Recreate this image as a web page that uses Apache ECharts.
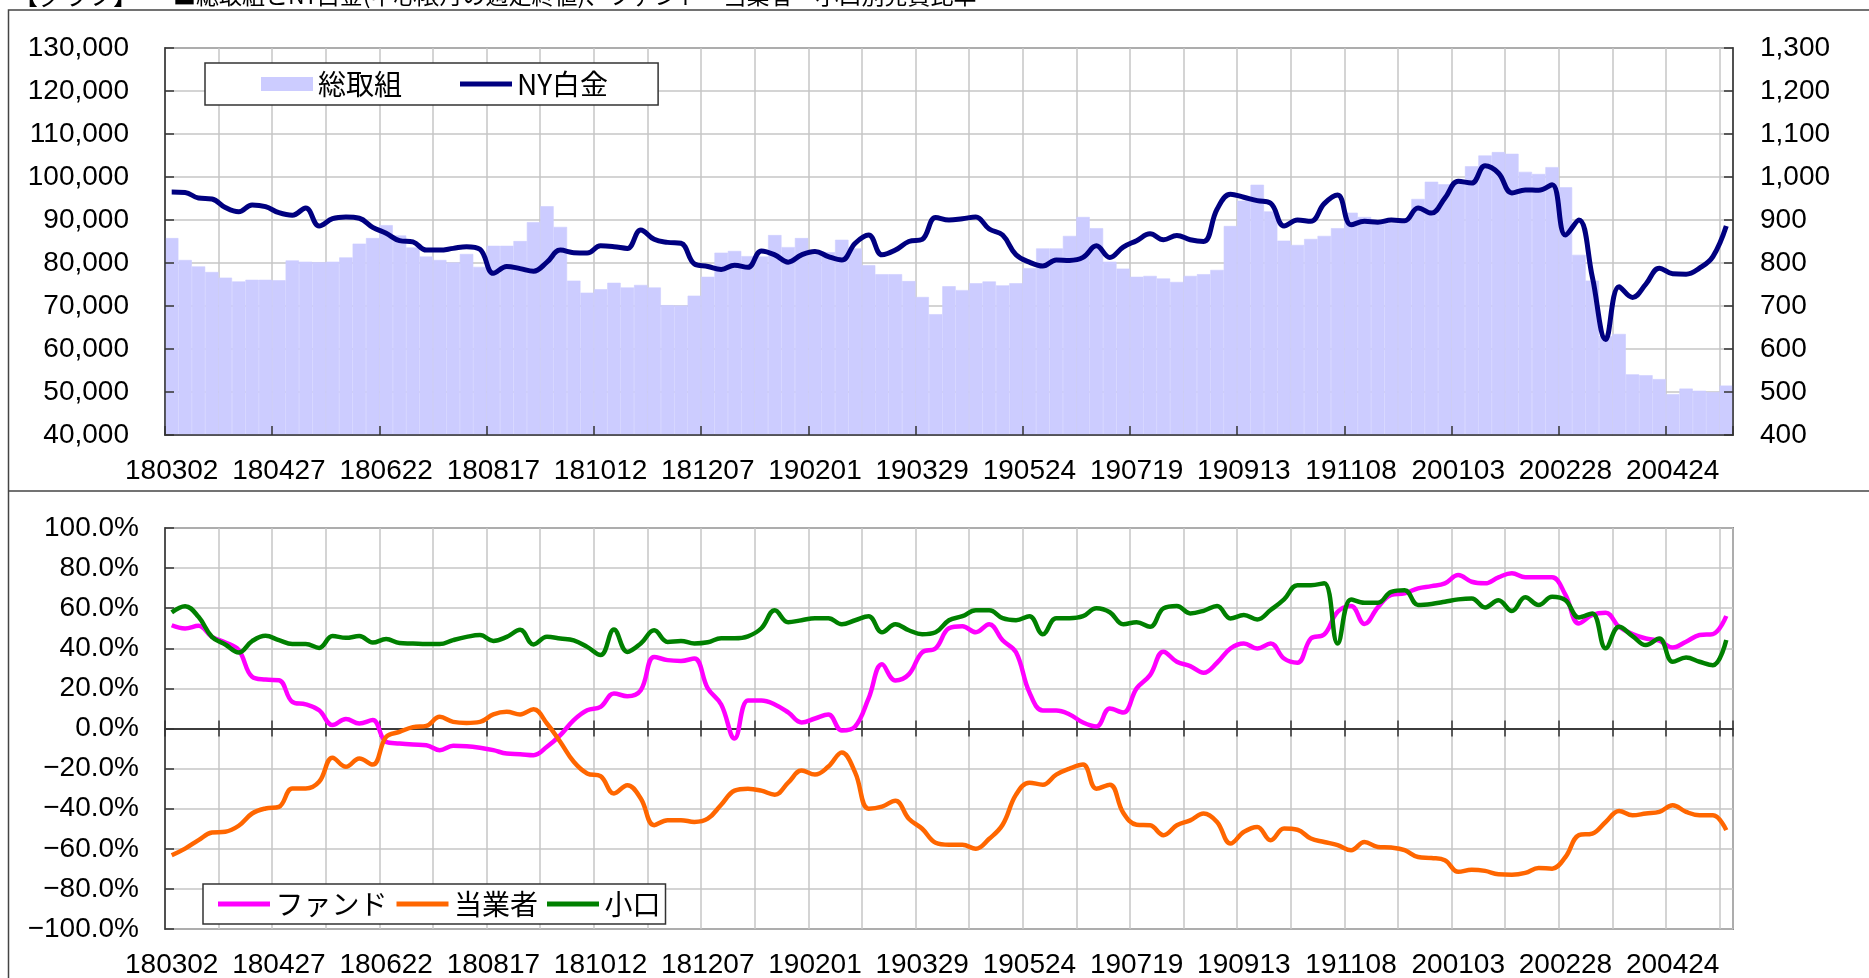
<!DOCTYPE html>
<html>
<head>
<meta charset="utf-8">
<script src="https://cdn.jsdelivr.net/npm/echarts@6/dist/echarts.min.js"></script>
<style>
html,body{margin:0;padding:0;background:#fff;}
#c{width:1869px;height:978px;}
</style>
</head>
<body>
<div id="c"></div>
<script>
// ---- categories (weekly, yymmdd) ----
const categories = ['180302','180309','180316','180323','180330','180406','180413','180420','180427','180504','180511','180518','180525','180601','180608','180615','180622','180629','180706','180713','180720','180727','180803','180810','180817','180824','180831','180907','180914','180921','180928','181005','181012','181019','181026','181102','181109','181116','181123','181130','181207','181214','181221','181228','190104','190111','190118','190125','190201','190208','190215','190222','190301','190308','190315','190322','190329','190405','190412','190419','190426','190503','190510','190517','190524','190531','190607','190614','190621','190628','190705','190712','190719','190726','190802','190809','190816','190823','190830','190906','190913','190920','190927','191004','191011','191018','191025','191101','191108','191115','191122','191129','191206','191213','191220','191227','200103','200110','200117','200124','200131','200207','200214','200221','200228','200306','200313','200320','200327','200403','200410','200417','200424','200501','200508','200515','200522'];

// ---- 総取組 (left axis) ----
const totalOI = [85800,80700,79200,77900,76600,75700,76100,76100,76000,80600,
80300,80200,80300,81300,84500,85800,88800,86400,83600,81500,
80700,80100,82100,79100,84000,84000,85100,89500,93200,88400,
75900,73100,73900,75400,74300,74900,74300,70200,70100,72400,
76800,82400,82800,81600,81500,86500,83700,85800,82000,82500,
85400,83400,79500,77400,77400,75800,72100,68100,74600,73700,
75300,75700,74800,75300,78800,83400,83400,86300,90700,88100,
80300,78700,76800,77000,76400,75600,77000,77400,78400,88600,
94500,98200,92000,85200,84200,85600,86300,88100,91700,90700,
89500,89300,90000,94900,98900,98300,99000,102500,105000,105800,
105400,101200,100700,102300,97600,81900,75900,63000,63500,54100,
53900,53000,49500,50800,50300,50000,51500];

// ---- NY白金 (right axis) ----
const platinum = [965,964,951,949,929,919,935,931,917,911,
928,886,903,907,904,883,869,852,849,830,
830,834,838,832,776,792,787,781,802,830,
824,823,840,838,834,877,855,848,846,798,
792,785,795,790,828,819,802,819,827,815,
807,846,865,819,830,850,855,906,900,903,
907,879,865,819,802,793,807,806,813,840,
813,837,852,868,854,864,854,850,925,960,
953,945,939,886,900,897,938,958,889,897,
895,900,898,928,916,951,990,986,1026,1009,
963,970,969,982,865,900,768,622,745,720,
751,788,775,774,788,815,886];

// ---- 売買比率 (%) ----
const fund = [51.5,49.9,51.2,45.7,42.9,39.1,25.8,24.4,24.1,13.3,
12.0,9.1,1.7,4.7,2.5,4.2,-6.7,-7.5,-8.0,-8.3,
-10.8,-8.6,-8.8,-9.6,-10.8,-12.5,-12.8,-13.3,-9.1,-3.3,
4.2,9.1,10.8,17.5,16.1,19.1,35.7,34.1,33.7,34.9,
20,12,-5,14,14,12,8,3,5,7,
-1,1,15,32,24,27,38,40,50,51,
48,52,44,38,18,9,9,7,3,1,
10,8,20,26.6,38.3,33.3,31.1,27.8,32.8,39.9,
42.4,39.9,42.4,34.9,32.8,44.9,46.9,58.2,61.1,52.1,
60.4,66.6,67.4,69.9,71.0,72.4,76.5,73.2,72.4,75.4,
77.4,75.4,75.4,75.4,66.6,52.4,56.6,57.7,50.7,47.1,
44.9,43.8,40.4,43.3,46.6,47.1,56.1];

const merchant = [-63.2,-59.9,-55.7,-51.9,-51.5,-48.5,-42.4,-39.9,-39.1,-29.9,
-29.9,-26.6,-14.6,-19.1,-15.0,-18.0,-4.2,-1.7,0.7,1.3,
5.8,3.3,2.8,3.3,7.0,8.3,7.0,9.6,2.5,-6.7,
-16.6,-22.4,-23.8,-32.4,-28.3,-34.9,-48.2,-45.7,-45.7,-46.6,
-45,-38,-31,-30,-31,-33,-27,-21,-23,-19,
-12,-22,-40,-39,-36,-45,-50,-57,-58,-58,
-60,-55,-48,-33,-27,-28,-23,-20,-18,-30,
-28,-42,-48,-48.3,-53.2,-48.3,-45.8,-42.4,-46.6,-57.4,
-51.6,-49.1,-55.7,-49.9,-50.5,-54.9,-56.6,-58.2,-60.7,-56.6,
-59.1,-59.4,-60.7,-64.1,-64.6,-65.7,-71.5,-70.4,-71.0,-72.7,
-72.9,-72.0,-69.6,-69.9,-64.1,-53.2,-52.4,-46.6,-41.1,-43.3,
-42.4,-41.6,-38.3,-41.6,-43.3,-43.3,-50.7];

const small = [57.9,61.0,55.7,45.7,41.9,37.9,43.6,46.2,44.1,42.2,
42.2,40.2,46.1,45.2,46.1,42.9,44.6,42.6,42.4,42.1,
42.1,44.1,45.7,46.6,43.7,45.7,49.2,41.9,45.7,44.9,
44.0,40.7,36.6,49.4,38.2,42.4,49.0,43.2,43.7,42.4,
43,45,45,46,50,59,53,54,55,55,
52,54,56,48,52,49,47,48,54,56,
59,59,55,54,56,47,55,55,56,60,
58,52,53,50.7,59.9,61.1,57.4,58.7,61.1,54.9,
56.6,54.4,59.1,64.4,71.5,71.5,72.4,42.4,64.4,62.7,
62.7,68.2,69.0,61.6,62.1,63.2,64.4,64.9,60.4,64.0,
58.6,65.4,61.6,65.7,64.0,55.4,57.4,40.0,50.7,46.1,
41.6,44.9,33.3,35.4,33.3,31.6,44.1];

// ---- axis scales ----
const leftScale = {min: 40000, max: 130000, interval: 10000};
const rightScale = {min: 400, max: 1300, interval: 100};
const pctScale = {min: -100, max: 100, interval: 20};

// ---- text ----
const titleLeft = '【グラフ】';
const titleMain = '■総取組とNY白金(中心限月の週足終値)、ファンド・当業者・小口別売買比率';

const NUM_FONT = '"Liberation Sans", Arial, sans-serif';
const JP_FONT = '"Noto Sans CJK JP", sans-serif';
const fmtComma = v => Number(v).toLocaleString('en-US');
const fmtPct = v => (v < 0 ? '\u2212' : '') + Math.abs(v).toFixed(1) + '%';
const GRID_LS = {color: '#c6c6c6', width: 1.5};
const AX_LS = {color: '#333', width: 1.5};
const LINE_ICON = 'path://M0,0M52,14M0,4.5L52,4.5L52,9.5L0,9.5Z';
const numLabel = {fontSize: 28, fontFamily: NUM_FONT, color: '#000'};

const chart = echarts.init(document.getElementById('c'), null, {renderer: 'canvas'});
const option = {
  backgroundColor: '#fff',
  animation: false,
  grid: [
    {left: 165, top: 48, width: 1568, height: 387, show: true, borderColor: '#333', borderWidth: 1.5, backgroundColor: 'transparent', containLabel: false, outerBoundsMode: 'none'},
    {left: 165, top: 528, width: 1568, height: 401, show: true, borderColor: '#333', borderWidth: 1.5, backgroundColor: 'transparent', containLabel: false, outerBoundsMode: 'none'}
  ],
  xAxis: [
    {type: 'category', gridIndex: 0, position: 'bottom', data: categories, boundaryGap: true, z: 5,
     axisLine: {show: true, onZero: false, lineStyle: AX_LS},
     axisTick: {show: true, inside: true, interval: 7, length: 9, lineStyle: AX_LS},
     axisLabel: Object.assign({interval: 7, margin: 22}, numLabel),
     splitLine: {show: false}},
    {type: 'category', gridIndex: 0, position: 'top', data: categories, boundaryGap: true, z: 0,
     axisLine: {show: false}, axisTick: {show: false}, axisLabel: {show: false},
     splitLine: {show: true, interval: 3, lineStyle: GRID_LS}},
    {type: 'category', gridIndex: 1, position: 'bottom', data: categories, boundaryGap: true,
     axisLine: {show: false, onZero: false}, axisTick: {show: false},
     axisLabel: Object.assign({interval: 7, margin: 22}, numLabel),
     splitLine: {show: true, interval: 3, lineStyle: GRID_LS}},
    {type: 'category', gridIndex: 1, position: 'top', data: categories, boundaryGap: true,
     axisLine: {show: true, onZero: true, onZeroAxisIndex: 3, lineStyle: AX_LS},
     axisTick: {show: true, interval: 3, length: 8, lineStyle: AX_LS},
     axisLabel: {show: false}, splitLine: {show: false}},
    {type: 'category', gridIndex: 1, position: 'bottom', data: categories, boundaryGap: true,
     axisLine: {show: true, onZero: true, onZeroAxisIndex: 3, lineStyle: AX_LS},
     axisTick: {show: true, interval: 3, length: 8, lineStyle: AX_LS},
     axisLabel: {show: false}, splitLine: {show: false}}
  ],
  yAxis: [
    Object.assign({type: 'value', gridIndex: 0, position: 'left', z: 5,
     axisLine: {show: true, lineStyle: AX_LS},
     axisTick: {show: true, inside: true, length: 9, lineStyle: AX_LS},
     axisLabel: Object.assign({margin: 36, formatter: fmtComma}, numLabel),
     splitLine: {show: false}}, leftScale),
    Object.assign({type: 'value', gridIndex: 0, position: 'right', z: 5,
     axisLine: {show: true, lineStyle: AX_LS},
     axisTick: {show: true, inside: true, length: 9, lineStyle: AX_LS},
     axisLabel: Object.assign({margin: 27, formatter: fmtComma}, numLabel),
     splitLine: {show: false}}, rightScale),
    Object.assign({type: 'value', gridIndex: 0, position: 'left', z: 0,
     axisLine: {show: false}, axisTick: {show: false}, axisLabel: {show: false},
     splitLine: {show: true, lineStyle: GRID_LS}}, leftScale),
    Object.assign({type: 'value', gridIndex: 1, position: 'left',
     axisLine: {show: true, lineStyle: AX_LS},
     axisTick: {show: true, inside: true, length: 9, lineStyle: AX_LS},
     axisLabel: Object.assign({margin: 26, formatter: fmtPct}, numLabel),
     splitLine: {show: true, lineStyle: GRID_LS}}, pctScale)
  ],
  legend: [
    {left: 205, top: 63, orient: 'horizontal', selectedMode: false,
     backgroundColor: '#fff', borderColor: '#333', borderWidth: 1.5,
     padding: [7, 50, 7, 56], itemWidth: 52, itemHeight: 14, itemGap: 58,
     itemStyle: {borderWidth: 0},
     textStyle: {fontSize: 28, fontFamily: JP_FONT, color: '#000'},
     data: [{name: '総取組', icon: 'rect'}, {name: 'NY白金', icon: LINE_ICON}]},
    {left: 203, top: 884, orient: 'horizontal', selectedMode: false,
     backgroundColor: '#fff', borderColor: '#333', borderWidth: 1.5,
     padding: [6, 5, 6, 15], itemWidth: 53, itemHeight: 14, itemGap: 9,
     itemStyle: {borderWidth: 0},
     textStyle: {fontSize: 28, fontFamily: JP_FONT, color: '#000'},
     data: [{name: 'ファンド', icon: LINE_ICON}, {name: '当業者', icon: LINE_ICON}, {name: '小口', icon: LINE_ICON}]}
  ],
  series: [
    {name: '総取組', type: 'bar', xAxisIndex: 0, yAxisIndex: 0, data: totalOI,
     barCategoryGap: '0%', barGap: '0%', z: 2,
     itemStyle: {color: '#CCCCFF', borderColor: '#CCCCFF', borderWidth: 0.6}},
    {name: 'NY白金', type: 'line', xAxisIndex: 0, yAxisIndex: 1, data: platinum,
     smooth: 0.4, symbol: 'none', z: 3,
     lineStyle: {color: '#000080', width: 5}, itemStyle: {color: '#000080'}},
    {name: 'ファンド', type: 'line', xAxisIndex: 2, yAxisIndex: 3, data: fund,
     smooth: 0.4, symbol: 'none', lineStyle: {color: '#FF00FF', width: 4.5}, itemStyle: {color: '#FF00FF'}},
    {name: '当業者', type: 'line', xAxisIndex: 2, yAxisIndex: 3, data: merchant,
     smooth: 0.4, symbol: 'none', lineStyle: {color: '#FF6600', width: 4.5}, itemStyle: {color: '#FF6600'}},
    {name: '小口', type: 'line', xAxisIndex: 2, yAxisIndex: 3, data: small,
     smooth: 0.4, symbol: 'none', lineStyle: {color: '#008000', width: 4.5}, itemStyle: {color: '#008000'}}
  ],
  graphic: [
    {type: 'rect', silent: true, z: 100, shape: {x: 8.5, y: 10, width: 1900, height: 1000},
     style: {fill: 'none', stroke: '#444', lineWidth: 1.5}},
    {type: 'line', silent: true, z: 100, shape: {x1: 8.5, y1: 491, x2: 1869, y2: 491},
     style: {stroke: '#444', lineWidth: 1.5}},
    {type: 'text', silent: true, z: 100, x: 13, y: -5,
     style: {text: titleLeft, font: '25px "Noto Sans CJK JP", sans-serif', fill: '#000', verticalAlign: 'middle', textVerticalAlign: 'middle'}},
    {type: 'text', silent: true, z: 100, x: 173, y: -5,
     style: {text: titleMain, font: '23px "Noto Sans CJK JP", sans-serif', fill: '#000', verticalAlign: 'middle', textVerticalAlign: 'middle'}}
  ]
};
chart.setOption(option);
</script>
</body>
</html>
